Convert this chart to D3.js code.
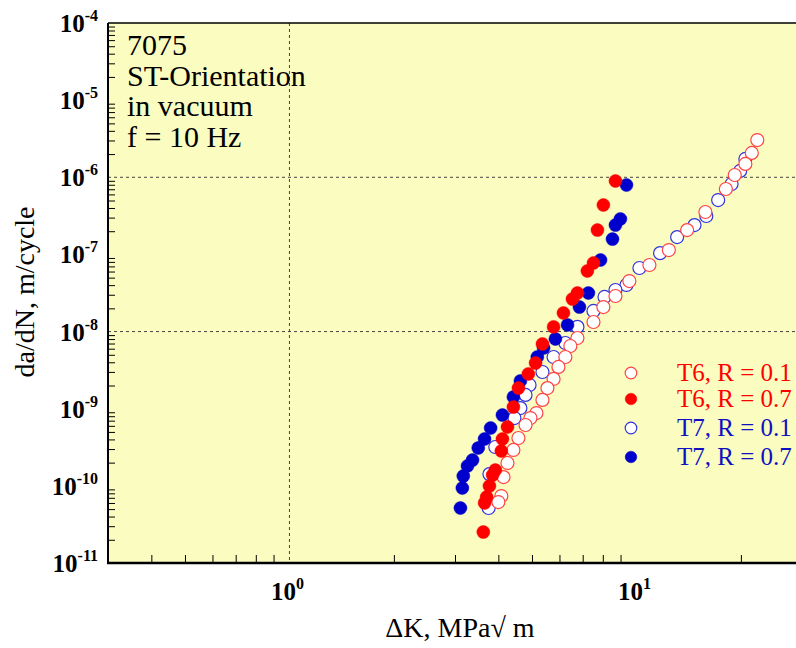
<!DOCTYPE html>
<html>
<head>
<meta charset="utf-8">
<script src="https://cdn.jsdelivr.net/npm/d3@7/dist/d3.min.js"></script>
<style>
  html, body { margin: 0; padding: 0; background: #ffffff; }
  svg { display: block; }
  text { font-family: "Liberation Serif", "Times New Roman", serif; }
</style>
</head>
<body>
<svg id="chart" width="796" height="648"></svg>
<script>
// ---------- data ----------
const t6r01_K    = [22.3,21.5,20.6,19.2,18.1,15.8,14.0,12.4,10.9,9.54,8.70,8.03,7.52,6.76,6.45,6.24,5.96,5.77,5.54,5.36,5.15,4.95,4.79,4.57,4.42,4.25,4.14,4.08,4.00];
const t6r01_dadN = [3.04e-6,2.07e-6,1.49e-6,1.07e-6,7.05e-7,3.55e-7,2.07e-7,1.14e-7,7.29e-8,4.52e-8,2.89e-8,2.08e-8,1.33e-8,8.26e-9,6.50e-9,4.68e-9,3.48e-9,2.43e-9,1.85e-9,1.30e-9,8.79e-10,7.57e-10,6.15e-10,4.17e-10,2.92e-10,1.98e-10,1.30e-10,7.38e-11,6.17e-11];

const t6r07_K    = [8.70,8.03,7.72,7.52,7.22,6.76,6.54,6.16,5.77,5.36,5.12,4.88,4.57,4.42,4.25,4.11,4.08,3.92,3.85,3.77,3.70,3.65,3.62];
const t6r07_dadN = [8.95e-7,4.37e-7,2.07e-7,7.74e-8,6.10e-8,3.16e-8,2.64e-8,1.74e-8,1.15e-8,6.90e-9,3.91e-9,2.82e-9,1.85e-9,1.05e-9,5.79e-10,4.05e-10,2.83e-10,1.60e-10,1.38e-10,9.95e-11,7.16e-11,6.00e-11,2.52e-11];

const t7r01_K    = [20.6,19.9,18.8,17.2,15.9,14.7,13.1,11.7,10.2,9.36,8.70,8.09,7.52,6.76,6.24,5.77,5.36,4.92,4.79,4.63,4.45,3.92,3.77,3.75];
const t7r01_dadN = [1.73e-6,1.21e-6,8.18e-7,5.07e-7,3.15e-7,2.40e-7,1.68e-7,1.04e-7,6.67e-8,4.02e-8,3.46e-8,2.81e-8,1.85e-8,1.15e-8,7.11e-9,4.68e-9,2.99e-9,2.03e-9,1.51e-9,1.02e-9,7.57e-10,3.19e-10,1.42e-10,5.16e-11];

const t7r07_K    = [9.36,8.99,8.70,8.53,7.88,7.27,6.85,6.33,5.84,5.40,5.18,4.63,4.42,4.11,3.80,3.65,3.50,3.37,3.26,3.17,3.15,3.11];
const t7r07_dadN = [7.94e-7,2.88e-7,2.40e-7,1.58e-7,8.47e-8,3.16e-8,2.08e-8,1.22e-8,8.02e-9,6.12e-9,4.68e-9,2.29e-9,1.42e-9,8.28e-10,5.62e-10,4.05e-10,3.10e-10,2.16e-10,1.81e-10,1.34e-10,9.38e-11,5.16e-11];

const seriesLabels = ["T6, R = 0.1", "T6, R = 0.7", "T7, R = 0.1", "T7, R = 0.7"];
const xMajorTicks = [1, 10];
const xMajorExp   = ["0", "1"];
const yMajorTicks = [1e-11,1e-10,1e-9,1e-8,1e-7,1e-6,1e-5,1e-4];
const yMajorExp   = ["-11","-10","-9","-8","-7","-6","-5","-4"];
const xGrid = [1];
const yGrid = [1e-8, 1e-6];
const infoLines = ["7075", "ST-Orientation", "in vacuum", "f = 10 Hz"];
const xTitle = "ΔK, MPa√ m";
const yTitle = "da/dN, m/cycle";

// ---------- layout ----------
const svg = d3.select("#chart");
const L = 108, T = 23, B = 563, R = 802;
const x = d3.scaleLog().domain([0.3, 30]).range([L, R]);
const y = d3.scaleLog().domain([1e-11, 1e-4]).range([B, T]);

svg.append("rect").attr("x", L).attr("y", T).attr("width", R - L).attr("height", B - T)
   .attr("fill", "#fbfcbf");

// minor ticks
const xMinor = [];
[0.1, 1, 10].forEach(d => { for (let k = 2; k <= 9; k++) { const v = d * k; if (v > 0.3 && v < 30) xMinor.push(v); } });
const yMinor = [];
for (let e = -11; e < -4; e++) for (let k = 2; k <= 9; k++) yMinor.push(k * Math.pow(10, e));

const xAxisG = svg.append("g").attr("transform", `translate(0,${B})`)
  .call(d3.axisBottom(x).tickValues(xMinor).tickSize(-8).tickFormat(""));
xAxisG.select(".domain").remove();
xAxisG.selectAll(".tick line").attr("stroke", "#000").attr("stroke-width", 1);

const yAxisG = svg.append("g").attr("transform", `translate(${L},0)`)
  .call(d3.axisLeft(y).tickValues(yMinor).tickSize(-7).tickFormat(""));
yAxisG.select(".domain").remove();
yAxisG.selectAll(".tick line").attr("stroke", "#000").attr("stroke-width", 1);

// grid lines
svg.selectAll(".xg").data(xGrid).enter().append("line")
  .attr("x1", d => x(d)).attr("x2", d => x(d)).attr("y1", T).attr("y2", B)
  .attr("stroke", "#444").attr("stroke-width", 1).attr("stroke-dasharray", "3,3");
svg.selectAll(".yg").data(yGrid).enter().append("line")
  .attr("x1", L).attr("x2", R).attr("y1", d => y(d)).attr("y2", d => y(d))
  .attr("stroke", "#444").attr("stroke-width", 1).attr("stroke-dasharray", "3,3");

// frame
svg.append("line").attr("x1", L).attr("x2", R).attr("y1", T).attr("y2", T).attr("stroke", "#000").attr("stroke-width", 1.5);
svg.append("line").attr("x1", L).attr("x2", L).attr("y1", T).attr("y2", B).attr("stroke", "#000").attr("stroke-width", 2);
svg.append("line").attr("x1", L - 1).attr("x2", R).attr("y1", B).attr("y2", B).attr("stroke", "#000").attr("stroke-width", 2.5);

// tick labels
yMajorTicks.forEach((v, i) => {
  const t = svg.append("text").attr("x", L - 10).attr("y", y(v) + 9)
    .attr("text-anchor", "end").attr("font-weight", "bold").attr("font-size", 25).attr("fill", "#000");
  t.append("tspan").text("10");
  t.append("tspan").attr("dy", -11).attr("font-size", 16).text(yMajorExp[i]);
});
xMajorTicks.forEach((v, i) => {
  const t = svg.append("text").attr("x", x(v) - 2).attr("y", 600)
    .attr("text-anchor", "middle").attr("font-weight", "bold").attr("font-size", 25).attr("fill", "#000");
  t.append("tspan").text("10");
  t.append("tspan").attr("dy", -11).attr("font-size", 16).text(xMajorExp[i]);
});

// axis titles
svg.append("text").attr("x", 460).attr("y", 637).attr("text-anchor", "middle")
  .attr("font-size", 28).attr("fill", "#000").text(xTitle);
svg.append("text").attr("transform", "translate(34,292) rotate(-90)").attr("text-anchor", "middle")
  .attr("font-size", 28).attr("fill", "#000").text(yTitle);

// info text
infoLines.forEach((s, i) => {
  svg.append("text").attr("x", 127).attr("y", 55 + i * 30.7).attr("font-size", 30).attr("fill", "#000").text(s);
});

// ---------- points ----------
const RED = "#ff0000", BLUE = "#0000cc";
function plot(K, V, fill, stroke) {
  const data = K.map((k, i) => [k, V[i]]);
  svg.append("g").selectAll("circle").data(data).enter().append("circle")
    .attr("cx", d => x(d[0])).attr("cy", d => y(d[1])).attr("r", 6.5)
    .attr("fill", fill).attr("stroke", stroke).attr("stroke-width", fill === "#ffffff" ? 1.2 : 0.5);
}
plot(t7r01_K, t7r01_dadN, "#ffffff", "#3333dd");
plot(t6r01_K, t6r01_dadN, "#ffffff", "#ff4444");
plot(t7r07_K, t7r07_dadN, BLUE, BLUE);
plot(t6r07_K, t6r07_dadN, RED, RED);

// ---------- legend ----------
const legFill   = ["#ffffff", RED, "#ffffff", BLUE];
const legStroke = ["#ff4444", RED, "#3333dd", BLUE];
const legText   = [RED, RED, "#1010c0", "#1010c0"];
const legY = [373, 399, 428, 457];
seriesLabels.forEach((s, i) => {
  svg.append("circle").attr("cx", 631).attr("cy", legY[i]).attr("r", 5.8)
    .attr("fill", legFill[i]).attr("stroke", legStroke[i]).attr("stroke-width", legFill[i] === "#ffffff" ? 1.2 : 0.5);
  svg.append("text").attr("x", 677).attr("y", legY[i] + 8).attr("font-size", 25)
    .attr("fill", legText[i]).text(s);
});
</script>
</body>
</html>
